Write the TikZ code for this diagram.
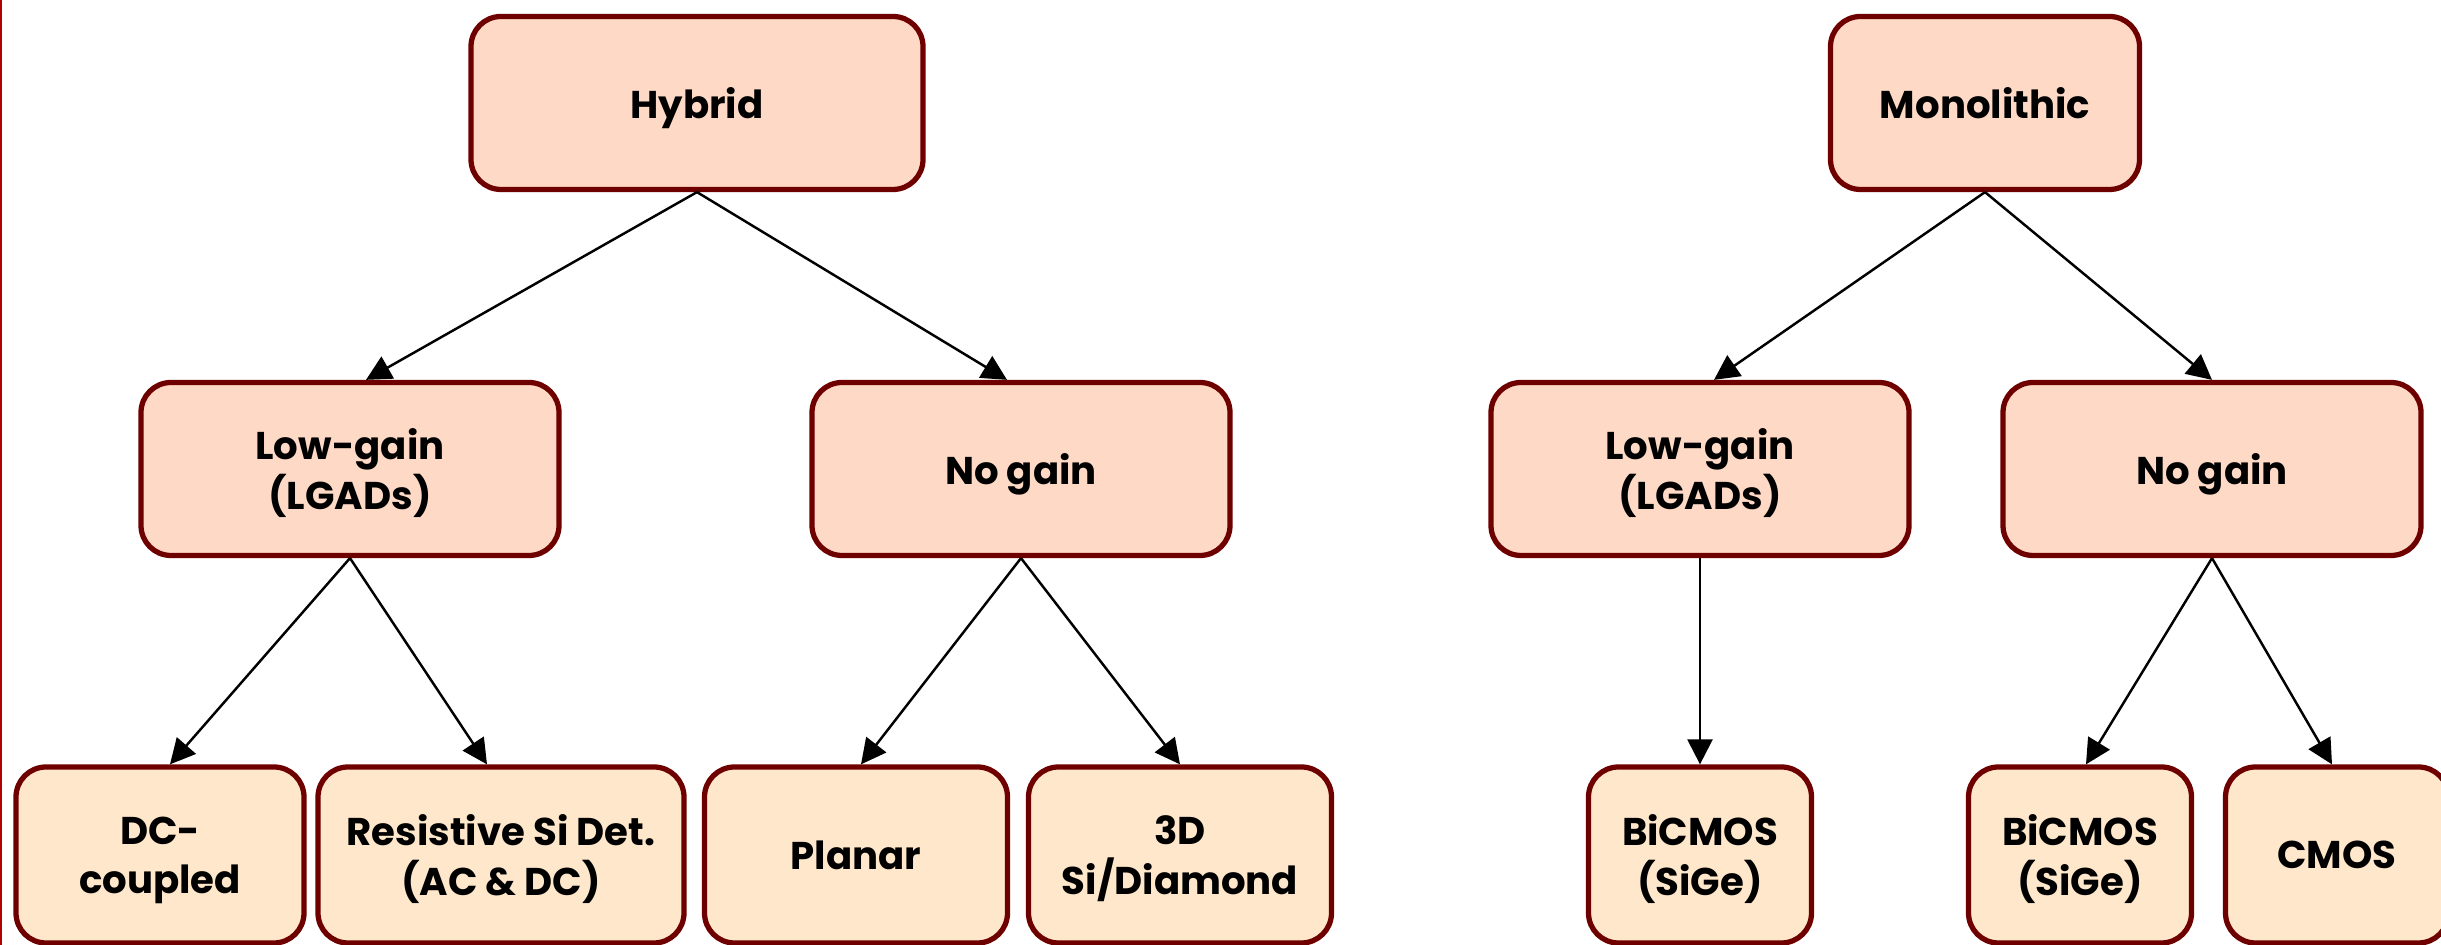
\documentclass[tikz,border=0pt]{standalone}
\usepackage{fontspec}
\setmainfont{Poppins}
\usetikzlibrary{arrows.meta}
\definecolor{Maroon}{HTML}{6E0000}
\definecolor{Peach}{HTML}{FDD9C6}
\definecolor{Cream}{HTML}{FEE7CA}
\definecolor{EdgeRed}{HTML}{B00000}

\begin{document}
\begin{tikzpicture}[
    catbox/.style={draw=Maroon,line width=1.5pt,rounded corners=0.3cm,minimum height=1.73cm,inner sep=0pt,text depth=-0.05cm,align=center,font=\bfseries\fontsize{11}{14}\selectfont},
    techbox/.style={catbox,fill=Cream,minimum height=1.76cm,text depth=-0.08cm},
    link/.style={-{Triangle[length=0.25cm,width=0.25cm]},line width=0.7pt}
  ]
    \clip (0,0) rectangle (24.41,-9.45);
    \draw[EdgeRed,line width=1.2pt] (0,0) -- (0,-9.45);

    % families
    \node[catbox,fill=Peach,minimum width=4.52cm] (hyb) at (6.97,-1.03) {Hybrid};
    \node[catbox,fill=Peach,minimum width=3.09cm] (mono) at (19.85,-1.03) {Monolithic};

    % gain
    \node[catbox,fill=Peach,minimum width=4.18cm] (lgl) at (3.50,-4.69) {Low-gain\\(LGADs)};
    \node[catbox,fill=Peach,minimum width=4.18cm] (ngl) at (10.21,-4.69) {No gain};
    \node[catbox,fill=Peach,minimum width=4.18cm] (lgr) at (17.00,-4.69) {Low-gain\\(LGADs)};
    \node[catbox,fill=Peach,minimum width=4.18cm] (ngr) at (22.12,-4.69) {No gain};

    % technologies
    \node[techbox,minimum width=2.88cm] (dc) at (1.60,-8.55) {DC-\\coupled};
    \node[techbox,minimum width=3.66cm] (res) at (5.01,-8.55) {Resistive Si Det.\\(AC \& DC)};
    \node[techbox,minimum width=3.03cm] (planar) at (8.56,-8.55) {Planar};
    \node[techbox,minimum width=3.03cm] (threed) at (11.80,-8.55) {3D\\Si/Diamond};
    \node[techbox,minimum width=2.23cm] (bicl) at (17.00,-8.55) {BiCMOS\\(SiGe)};
    \node[techbox,minimum width=2.23cm] (bicr) at (20.80,-8.55) {BiCMOS\\(SiGe)};
    \node[techbox,minimum width=2.23cm] (cmos) at (23.37,-8.55) {CMOS};

    \draw[link] (hyb.south) -- ([xshift=1.6mm]lgl.north);
    \draw[link] (hyb.south) -- ([xshift=-1.4mm]ngl.north);
    \draw[link] (mono.south) -- ([xshift=1.4mm]lgr.north);
    \draw[link] (mono.south) -- (ngr.north);
    \draw[link] (lgl.south) -- ([xshift=1mm]dc.north);
    \draw[link] (lgl.south) -- ([xshift=-1.4mm]res.north);
    \draw[link] (ngl.south) -- ([xshift=0.5mm]planar.north);
    \draw[link] (ngl.south) -- (threed.north);
    \draw[link] (lgr.south) -- (bicl.north);
    \draw[link] (ngr.south) -- ([xshift=0.6mm]bicr.north);
    \draw[link] (ngr.south) -- ([xshift=-0.5mm]cmos.north);
  \end{tikzpicture}
\end{document}
